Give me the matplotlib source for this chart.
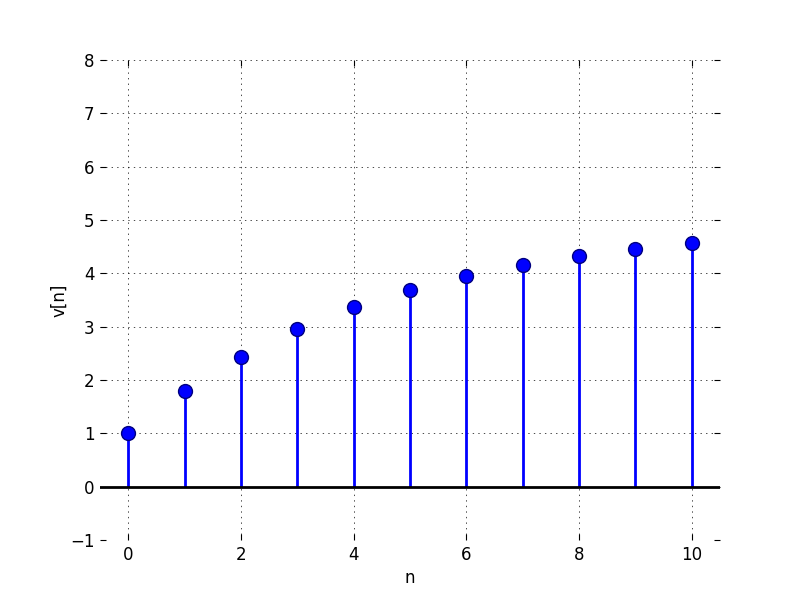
import matplotlib
matplotlib.use("Agg")
import matplotlib.pyplot as plt

# --- DATA ---
n = [0, 1, 2, 3, 4, 5, 6, 7, 8, 9, 10]
v = [1.0, 1.8, 2.44, 2.95, 3.36, 3.69, 3.95, 4.16, 4.33, 4.46, 4.57]

# --- PLOT ---
fig = plt.figure(figsize=(8, 6), dpi=100)
ax = fig.add_axes([0.125, 0.1, 0.775, 0.8])

markerline, stemlines, baseline = ax.stem(n, v)
plt.setp(stemlines, color="blue", linewidth=2)
plt.setp(markerline, color="blue", marker="o", markersize=10,
         markeredgecolor="#000080", markeredgewidth=1)
plt.setp(baseline, color="black", linewidth=2)
baseline.set_xdata([-0.5, 10.5])

ax.set_xlim(-0.5, 10.5)
ax.set_ylim(-1, 8)
ax.set_xticks(range(0, 11, 2))
ax.set_yticks(range(-1, 9))
ax.set_xlabel("n", fontsize=12)
ax.set_ylabel("v[n]", fontsize=12, labelpad=1)

for s in ax.spines.values():
    s.set_visible(False)
ax.tick_params(direction="in", length=4, width=0.8, top=True, right=True,
               labelsize=12, pad=4)
# sparse dotted grid, like the classic style
ax.grid(True, color="black", linestyle=(0, (2, 6)), linewidth=0.5)
ax.set_axisbelow(True)

fig.savefig("out.png", dpi=100)
